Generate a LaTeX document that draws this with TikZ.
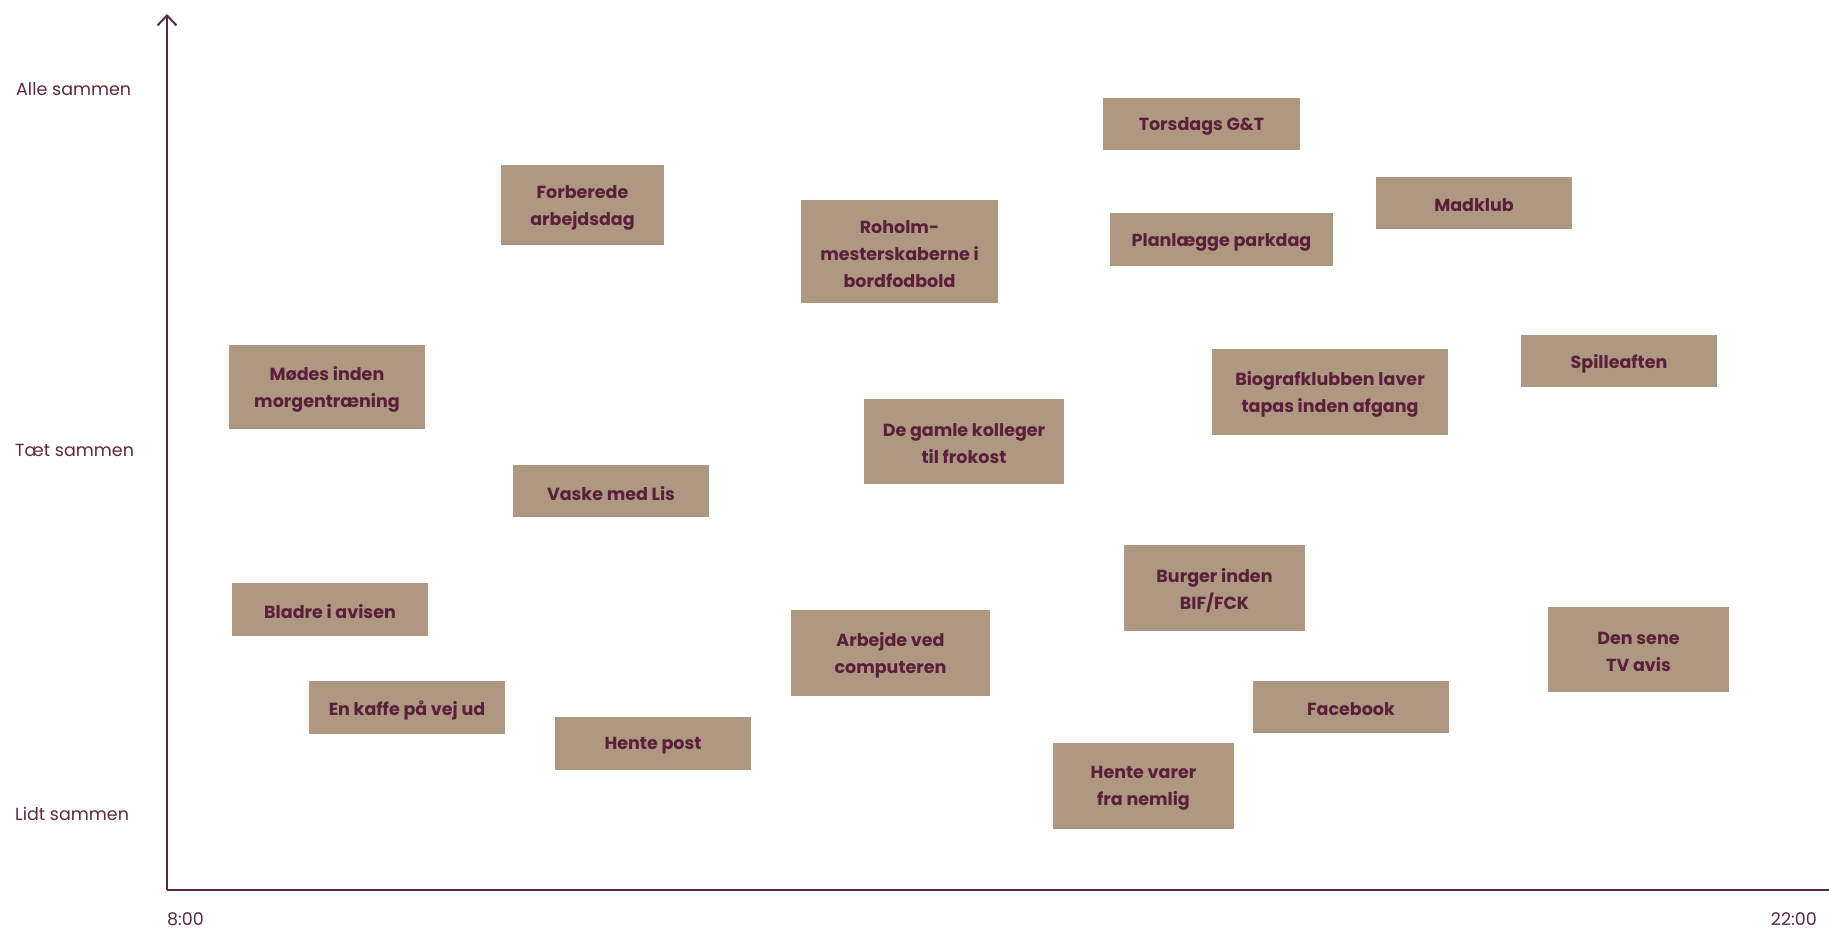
\documentclass[tikz,border=0pt]{standalone}
\usepackage{fontspec}
\setmainfont{Poppins}
\usetikzlibrary{arrows.meta}
\definecolor{boxfill}{HTML}{AE9882}
\definecolor{boxtext}{HTML}{5C1F3A}
\definecolor{axiscol}{HTML}{5A2A42}
\tikzset{
  actbox/.style={fill=boxfill, inner sep=0pt},
  acttext/.style={text=boxtext, inner sep=0pt, align=center, yshift=-2.5pt,
    font=\fontsize{17.5}{27}\selectfont\bfseries},
  axislabel/.style={text=axiscol, inner sep=0pt, font=\fontsize{17.5}{22}\selectfont},
  axisline/.style={draw=axiscol, line width=2pt}
}
\newcommand{\actnode}[6]{%
  \node[actbox, minimum width=#4-#2, minimum height=#5-#3] (#1) at ({(#2+#4)/2},{(#3+#5)/2}) {};
  \node[acttext] (#1-text) at (#1.center) {#6};}
\begin{document}
\begin{tikzpicture}[x=1pt,y=-1pt]
\useasboundingbox (0,0) rectangle (1829,929);
% axes
\coordinate (origin) at (167,890);
\coordinate (ytop) at (167,14);
\coordinate (xend) at (1829,890);
\draw[axisline, -{Straight Barb[length=10pt,width=19pt,line width=2pt]}] (origin) -- (ytop);
\draw[axisline] (origin) -- (xend);
% axis labels
\node[axislabel, anchor=west] (alle) at (16,89) {Alle sammen};
\node[axislabel, anchor=west] (taet) at (15,450) {Tæt sammen};
\node[axislabel, anchor=west] (lidt) at (15,814) {Lidt sammen};
\node[axislabel, anchor=west] (t8) at (167,919) {8:00};
\node[axislabel, anchor=east] (t22) at (1817,919) {22:00};
% activity boxes
\actnode{torsdag}{1103}{98}{1300}{150}{Torsdags G\&T}
\actnode{forberede}{501}{165}{664}{245}{Forberede\\arbejdsdag}
\actnode{roholm}{801}{200}{998}{303}{Roholm-\\mesterskaberne i\\bordfodbold}
\actnode{planlaegge}{1110}{213}{1333}{266}{Planlægge parkdag}
\actnode{madklub}{1376}{177}{1572}{229}{Madklub}
\actnode{moedes}{229}{345}{425}{429}{Mødes inden\\morgentræning}
\actnode{biograf}{1212}{349}{1448}{435}{Biografklubben laver\\tapas inden afgang}
\actnode{spil}{1521}{335}{1717}{387}{Spilleaften}
\actnode{kolleger}{864}{399}{1064}{484}{De gamle kolleger\\til frokost}
\actnode{vaske}{513}{465}{709}{517}{Vaske med Lis}
\actnode{burger}{1124}{545}{1305}{631}{Burger inden\\BIF/FCK}
\actnode{bladre}{232}{583}{428}{636}{Bladre i avisen}
\actnode{arbejde}{791}{610}{990}{696}{Arbejde ved\\computeren}
\actnode{tvavis}{1548}{607}{1729}{692}{Den sene\\TV avis}
\actnode{kaffe}{309}{681}{505}{734}{En kaffe på vej ud}
\actnode{facebook}{1253}{681}{1449}{733}{Facebook}
\actnode{post}{555}{717}{751}{770}{Hente post}
\actnode{varer}{1053}{743}{1234}{829}{Hente varer\\fra nemlig}
\end{tikzpicture}
\end{document}
